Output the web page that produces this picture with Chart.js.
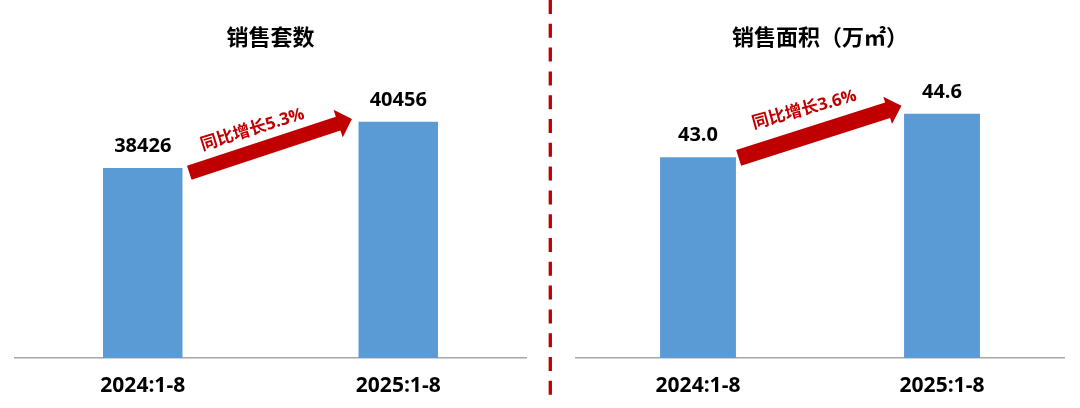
<!DOCTYPE html>
<html><head><meta charset="utf-8">
<script src="https://cdn.jsdelivr.net/npm/chart.js@4/dist/chart.umd.min.js"></script>
<style>
html,body{margin:0;padding:0;background:#fff;}
#wrap{position:relative;width:1080px;height:408px;overflow:hidden;background:#fff;}
.box{position:absolute;top:0;width:540px;height:408px;}
canvas{display:block;}
</style></head><body>
<div id="wrap">
<div class="box" style="left:0"><canvas id="c1" width="540" height="408"></canvas></div>
<div class="box" style="left:540px"><canvas id="c2" width="540" height="408"></canvas></div>
</div>
<script>
// ---- data ----
const categories = ['2024:1-8', '2025:1-8'];
const unitsSold = [38426, 40456];
const areaSold = [43.0, 44.6];
const unitsLabels = ['38426', '40456'];
const areaLabels = ['43.0', '44.6'];
const titles = ['销售套数', '销售面积（万㎡）'];
const growthTexts = ['同比增长5.3%', '同比增长3.6%'];

// ---- styles ----
const BAR = '#5B9BD5';
const RED = '#C00000';
const LATIN = '"Open Sans", "Noto Sans CJK SC", sans-serif';
const CJK = '"Noto Sans CJK SC", sans-serif';

function overlay(opt) {
  return {
    id: 'overlay' + opt.key,
    afterDatasetsDraw(chart) {
      const ctx = chart.ctx;
      const bars = chart.getDatasetMeta(0).data;
      const ca = chart.chartArea;
      ctx.save();
      // dashed divider
      if (opt.divider) {
        ctx.strokeStyle = RED;
        ctx.lineWidth = 3.3;
        ctx.setLineDash([14, 9.8]);
        ctx.beginPath();
        ctx.moveTo(opt.divider, 0);
        ctx.lineTo(opt.divider, 397);
        ctx.stroke();
        ctx.setLineDash([]);
      }
      // title
      ctx.fillStyle = '#000';
      ctx.textAlign = 'center';
      ctx.textBaseline = 'alphabetic';
      ctx.font = 'bold 22px ' + CJK;
      ctx.fillText(opt.title, (ca.left + ca.right) / 2, 45);
      // value labels
      ctx.font = 'bold 20px ' + LATIN;
      bars.forEach((b, i) => ctx.fillText(opt.labels[i], b.x, b.y - 15.7));
      // arrow
      const b1 = bars[0], b2 = bars[1];
      const tx = b1.x + b1.width / 2 + opt.a[0], ty = b1.y + opt.a[1];
      const px = b2.x - b2.width / 2 + opt.a[2], py = b2.y + opt.a[3];
      const ang = Math.atan2(py - ty, px - tx);
      const L = Math.hypot(px - tx, py - ty);
      const sw = opt.sw, hw = opt.hw, hl = 14.5;
      ctx.translate(tx, ty);
      ctx.rotate(ang);
      ctx.fillStyle = RED;
      ctx.beginPath();
      ctx.moveTo(0, -sw);
      ctx.lineTo(L - hl, -sw);
      ctx.lineTo(L - hl, -hw);
      ctx.lineTo(L, 0);
      ctx.lineTo(L - hl, hw);
      ctx.lineTo(L - hl, sw);
      ctx.lineTo(0, sw);
      ctx.closePath();
      ctx.fill();
      // growth text
      ctx.translate(opt.along, -opt.perp);
      ctx.rotate(-ang + opt.textAng);
      ctx.font = 'bold 17px ' + LATIN;
      ctx.textAlign = 'center';
      ctx.textBaseline = 'middle';
      ctx.fillText(opt.growth, 0, 0);
      ctx.restore();
    }
  };
}

function makeChart(id, values, min, max, padL, padR, opt) {
  return new Chart(document.getElementById(id), {
    type: 'bar',
    data: {
      labels: categories,
      datasets: [{
        data: values,
        backgroundColor: BAR,
        borderWidth: 0,
        barPercentage: 0.311,
        categoryPercentage: 1.0
      }]
    },
    options: {
      responsive: false,
      animation: false,
      events: [],
      layout: { padding: { left: padL, right: padR, top: 60, bottom: 0 } },
      plugins: { legend: { display: false }, tooltip: { enabled: false }, title: { display: false } },
      scales: {
        x: {
          grid: { display: false, drawTicks: false },
          border: { display: true, color: '#a6a6a6', width: 1.6 },
          ticks: { color: '#000', font: { family: LATIN, size: 21, weight: 'bold' }, padding: 15, maxRotation: 0 },
          afterFit(scale) { scale.height = 50; }
        },
        y: { display: false, min: min, max: max }
      }
    },
    plugins: [overlay(opt)]
  });
}

makeChart('c1', unitsSold, 30100, 43164, 15, 14, {
  key: 1, title: titles[0], labels: unitsLabels, growth: growthTexts[0],
  a: [6.8, 4.7, -6.6, -2.7], sw: 7.3, hw: 14.6, along: 73.5, perp: 21, textAng: -17.3 * Math.PI / 180
});
makeChart('c2', areaSold, 35.58, 46.59, 36, 16, {
  key: 2, title: titles[1], labels: areaLabels, growth: growthTexts[1], divider: 10.3,
  a: [2.7, 0.7, -2.6, -8], sw: 8.2, hw: 14.3, along: 77.3, perp: 25.7, textAng: -15.4 * Math.PI / 180
});
</script>
</body></html>
